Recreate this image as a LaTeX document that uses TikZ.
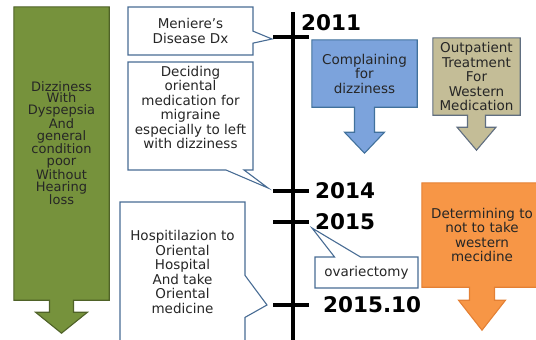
\documentclass[tikz,border=0pt]{standalone}
\usepackage{fontspec}
\setmainfont{DejaVu Sans}
\usetikzlibrary{calc,shapes.callouts,backgrounds}
\definecolor{olivefill}{RGB}{118,146,60}
\definecolor{olivedraw}{RGB}{79,98,40}
\definecolor{bluefill}{RGB}{124,163,220}
\definecolor{bluedraw}{RGB}{65,113,156}
\definecolor{tanfill}{RGB}{196,189,151}
\definecolor{tandraw}{RGB}{96,110,128}
\definecolor{orgfill}{RGB}{247,150,70}
\definecolor{orgdraw}{RGB}{228,128,52}
\definecolor{notedraw}{RGB}{72,108,148}
\definecolor{ink}{RGB}{38,38,38}
\tikzset{tl/.style={line width=4.5pt},
  tck/.style={line width=4pt},
  yr/.style={anchor=west, inner sep=0pt, font=\fontsize{21.5}{24}\selectfont\bfseries},
  note/.style={rectangle callout, draw=notedraw, fill=white, line width=1.1pt, inner sep=0pt,
    align=center, text=ink, font=\fontsize{13.5}{14.5}\selectfont},
  blk/.style={inner sep=0pt, align=center, text=ink, font=\fontsize{13.5}{14.5}\selectfont},
  shaft/.style={line width=1.1pt, line join=miter}}
% #1 body node, #2 colours, #3 shaft half width, #4 shaft length, #5 head half width, #6 head length
\newcommand{\downarrowbox}[6]{%
  \begin{scope}[on background layer]
    \draw[shaft,#2] (#1.north west) -- (#1.north east) -- (#1.south east)
      -- ([xshift=#3pt]#1.south) -- ++(0,#4) -- ++({#5-#3},0) -- ++({-#5},#6)
      -- ++({-#5},{-#6}) -- ++({#5-#3},0) -- ++(0,{-#4}) -- (#1.south west) -- cycle;
  \end{scope}}

\begin{document}
\begin{tikzpicture}[x=1pt,y=-1pt]
  \useasboundingbox (0,0) rectangle (536,340);
  % time line
  \coordinate (top) at (293,12);
  \coordinate (bot) at (293,345);
  \draw[tl] (top) -- (bot);
  \foreach \yy/\y in {2011/37,2014/191,2015/222,201510/305}{
    \coordinate (a\yy) at (273,\y);
    \coordinate (b\yy) at (309,\y);
    \draw[tck] (a\yy) -- (b\yy);}
  \node[yr] (l2011) at (301,23) {2011};
  \node[yr] (l2014) at ([xshift=6pt]b2014) {2014};
  \node[yr] (l2015) at ([xshift=6pt]b2015) {2015};
  \node[yr] (l201510) at ([xshift=14pt]b201510) {2015.10};

  % callouts
  \node[note, minimum width=125pt, minimum height=48pt, callout pointer width=12pt,
    callout absolute pointer={([xshift=-1pt,yshift=-2pt]a2011)}] (dx) at (190.5,31)
    {Meniere’s\\Disease Dx};
  \node[note, minimum width=125pt, minimum height=108pt, callout pointer width=18pt,
    callout absolute pointer={([xshift=-5pt,yshift=3pt]a2014)}] (mig) at (190.5,116)
    {Deciding\\oriental\\medication for\\migraine\\especially to left\\with dizziness\rule[-17pt]{0pt}{0pt}};
  \node[note, minimum width=125pt, minimum height=140pt, callout pointer width=42pt,
    callout absolute pointer={([xshift=-6pt]a201510)}] (hosp) at (182.5,272)
    {Hospitilazion to\\Oriental\\Hospital\\And take\\Oriental\\medicine};
  \node[note, minimum width=103pt, minimum height=31pt, callout pointer width=26pt,
    callout absolute pointer={([xshift=3pt,yshift=-6pt]b2015)}] (ovx) at (366.5,272.5)
    {ovariectomy};

  % block arrows
  \node[blk, minimum width=95pt, minimum height=293pt, font=\fontsize{13}{11.9}\selectfont] (sx) at (61.5,153.5)
    {Dizziness\\With\\Dyspepsia\\And\\general\\condition\\poor\\Without\\Hearing\\loss\rule[-21pt]{0pt}{0pt}};
  \downarrowbox{sx}{draw=olivedraw,fill=olivefill}{12}{12}{26}{21}
  \node[blk, minimum width=105pt, minimum height=67pt] (cc) at (364.5,73.5) {Complaining\\for\\dizziness};
  \downarrowbox{cc}{draw=bluedraw,fill=bluefill}{10}{25}{20}{21}
  \node[blk, minimum width=87pt, minimum height=77pt] (opd) at (476.5,76.5) {Outpatient\\Treatment\\For\\Western\\Medication};
  \downarrowbox{opd}{draw=tandraw,fill=tanfill}{9}{12}{19.5}{23}
  \node[blk, minimum width=120pt, minimum height=104pt] (stop) at (482,235) {Determining to\\not to take\\western\\mecidine};
  \downarrowbox{stop}{draw=orgdraw,fill=orgfill}{12.5}{13}{23.5}{30}
\end{tikzpicture}
\end{document}
